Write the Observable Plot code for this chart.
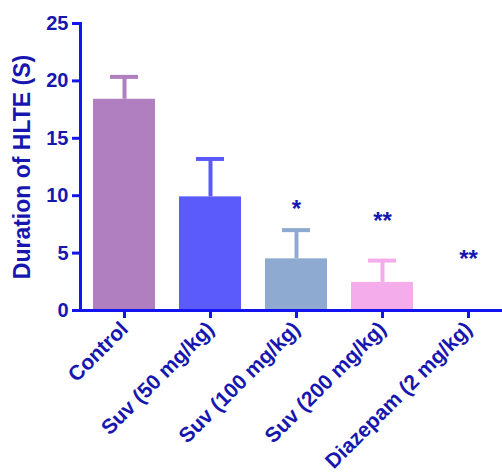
<!DOCTYPE html>
<html>
<head>
<meta charset="utf-8">
<script src="https://cdn.jsdelivr.net/npm/d3@7"></script>
<script src="https://cdn.jsdelivr.net/npm/@observablehq/plot@0.6"></script>
<style>
  html, body { margin: 0; padding: 0; background: #fff; overflow: hidden; }
  svg { font-family: "Liberation Sans", Arial, sans-serif; }
</style>
</head>
<body>
<div id="chart"></div>
<script>
const categories = ["Control", "Suv (50 mg/kg)", "Suv (100 mg/kg)", "Suv (200 mg/kg)", "Diazepam (2 mg/kg)"];
const means = [18.4, 9.9, 4.5, 2.45, 0];
const errors = [1.95, 3.3, 2.5, 1.9, 0];
const stars = ["", "", "*", "**", "**"];
const starLevels = [null, null, 8.8, 7.8, 4.5];
const yTicks = [0, 5, 10, 15, 20, 25];

const barColors = ["#b07fbf", "#5b5bfb", "#8eaad0", "#f5acea", "#ffffff"];
const axisColor = "#1414f0";
const textColor = "#1717b0";

const data = categories.map((c, i) => ({
  cat: c, mean: means[i], err: errors[i], top: means[i] + errors[i],
  star: stars[i], starY: starLevels[i]
}));

const chart = Plot.plot({
  width: 502,
  height: 472,
  marginLeft: 80,
  marginRight: 0,
  marginTop: 23,
  marginBottom: 162,
  style: { fontFamily: "'Liberation Sans', Arial, sans-serif", background: "#fff" },
  x: { type: "band", domain: categories, range: [80, 511], paddingInner: 0.28, paddingOuter: 0.137 },
  y: { domain: [0, 25] },
  color: { domain: categories, range: barColors },
  marks: [
    Plot.barY(data.filter(d => d.mean > 0), { x: "cat", y: "mean", fill: "cat" }),
    Plot.ruleX(data.filter(d => d.err > 0), { x: "cat", y1: "mean", y2: "top", stroke: "cat", strokeWidth: 4 }),
    Plot.tickY(data.filter(d => d.err > 0), { x: "cat", y: "top", stroke: "cat", strokeWidth: 4, insetLeft: 17, insetRight: 17 }),
    Plot.text(data.filter(d => d.star), { x: "cat", y: "starY", text: "star", fill: textColor, fontSize: 24, fontWeight: "bold" }),
    Plot.axisY({ ticks: yTicks, tickSize: 8, tickPadding: 4, stroke: axisColor, strokeWidth: 3, fill: textColor, fontSize: 20, fontWeight: "bold", label: null }),
    Plot.axisX({ tickSize: 8, tickPadding: 7, tickRotate: -45, stroke: axisColor, strokeWidth: 3, fill: textColor, fontSize: 21, fontWeight: "bold", label: null }),
    Plot.frame({ anchor: "left", stroke: axisColor, strokeWidth: 3 }),
    Plot.ruleY([0], { stroke: axisColor, strokeWidth: 3 }),
    Plot.text(["Duration of HLTE (S)"], { frameAnchor: "left", textAnchor: "middle", dx: -58, rotate: -90, fill: textColor, fontSize: 23, fontWeight: "bold" })
  ]
});
document.getElementById("chart").appendChild(chart);
</script>
</body>
</html>
